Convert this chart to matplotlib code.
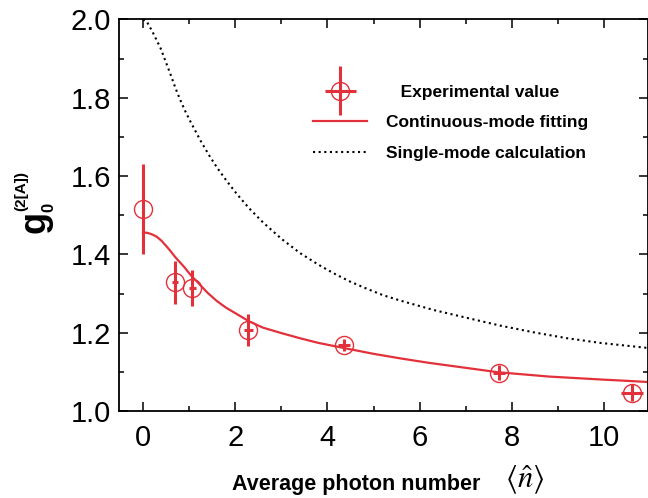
import numpy as np
import matplotlib
matplotlib.use("Agg")
import matplotlib.pyplot as plt
from matplotlib.legend_handler import HandlerErrorbar

plt.rcParams['font.family'] = ['Liberation Sans', 'DejaVu Sans']

RED = '#e3313c'

# experimental points
n_exp = [0.0, 0.70, 1.07, 2.28, 4.36, 7.72, 10.61]
g_exp = [1.517, 1.329, 1.314, 1.207, 1.168, 1.098, 1.047]
g_err = [0.115, 0.055, 0.046, 0.042, 0.015, 0.020, 0.021]
n_err = [0.0, 0.07, 0.07, 0.10, 0.13, 0.13, 0.24]

# continuous-mode fitting curve
n_fit = [0.0, 0.1, 0.2, 0.3, 0.4, 0.5, 0.6, 0.7, 0.8, 0.9, 1.0, 1.1, 1.2,
         1.4, 1.6, 1.8, 2.0, 2.3, 2.6, 3.0, 3.4, 3.8, 4.35, 5.0, 5.6, 6.2,
         6.7, 7.2, 7.7, 8.3, 8.8, 9.4, 10.0, 10.5, 10.95]
g_fit = [1.456, 1.455, 1.451, 1.445, 1.435, 1.422, 1.408, 1.393, 1.380,
         1.367, 1.352, 1.339, 1.327, 1.302, 1.281, 1.264, 1.250, 1.229,
         1.213, 1.199, 1.186, 1.174, 1.161, 1.146, 1.134, 1.123, 1.115,
         1.107, 1.099, 1.093, 1.088, 1.084, 1.080, 1.077, 1.074]

# single-mode calculation curve
n_sm = [0.0, 0.076, 0.2, 0.38, 0.5, 0.6, 0.7, 0.81, 0.92, 1.03, 1.25, 1.45,
        1.61, 1.8, 2.03, 2.3, 2.6, 3.0, 3.41, 3.8, 4.13, 4.5, 4.86, 5.2,
        5.58, 6.3, 7.02, 7.75, 8.47, 9.19, 9.91, 10.95]
g_sm = [2.0, 1.996, 1.97, 1.927, 1.89, 1.859, 1.826, 1.794, 1.765, 1.739,
        1.69, 1.65, 1.621, 1.59, 1.555, 1.518, 1.482, 1.44, 1.403, 1.374,
        1.352, 1.33, 1.312, 1.296, 1.282, 1.258, 1.238, 1.218, 1.201, 1.186,
        1.174, 1.161]

labels = ['   Experimental value', 'Continuous-mode fitting', 'Single-mode calculation']

fig = plt.figure(figsize=(6.48, 4.98), dpi=100)
ax = fig.add_axes([119 / 648, 1 - 411 / 498, 1 - 119 / 648, (411 - 19.5) / 498])

l_sm, = ax.plot(n_sm, g_sm, color='black', lw=1.5, linestyle=(0, (1, 1.7)))
l_fit, = ax.plot(n_fit, g_fit, color=RED, lw=1.6)
eb = ax.errorbar(n_exp, g_exp, yerr=g_err, xerr=n_err, fmt='o', ms=13,
                 mfc='none', mec=RED, mew=1.0, ecolor=RED, elinewidth=2.2,
                 capsize=0, zorder=5)

ax.set_xlim(-0.52, 10.95)
ax.set_ylim(1.0, 2.0)
ax.set_xticks([0, 2, 4, 6, 8, 10])
ax.set_xticks(np.arange(1, 11, 2), minor=True)
ax.set_yticks([1.0, 1.2, 1.4, 1.6, 1.8, 2.0])
ax.set_yticklabels(['1.0', '1.2', '1.4', '1.6', '1.8', '2.0'])
ax.set_yticks([1.1, 1.3, 1.5, 1.7, 1.9], minor=True)
ax.tick_params(which='both', direction='in', top=True, right=True,
               width=1.1, labelsize=21)
ax.tick_params(which='major', length=6.5)
ax.tick_params(which='minor', length=3.6)
ax.tick_params(axis='x', pad=9)
ax.tick_params(axis='y', pad=6)
for s in ax.spines.values():
    s.set_linewidth(1.3)

# x label: bold words plus math symbol
fig.text(232 / 648, 1 - 490 / 498, 'Average photon number', fontsize=15.5,
         fontweight='bold', ha='left', va='baseline')
fig.text(505 / 648, 1 - 488 / 498, r'$\langle\hat{n}\rangle$', fontsize=22,
         math_fontfamily='stix', ha='left', va='baseline')

# y label: g with sub/superscript, rotated
fig.text(45 / 648, 1 - 233 / 498, 'g', fontsize=26, fontweight='bold',
         rotation=90, rotation_mode='anchor', ha='left', va='baseline')
fig.text(53 / 648, 1 - 212 / 498, '0', fontsize=12, fontweight='bold',
         rotation=90, rotation_mode='anchor', ha='left', va='baseline')
fig.text(25 / 648, 1 - 211 / 498, '(2[A])', fontsize=11, fontweight='bold',
         rotation=90, rotation_mode='anchor', ha='left', va='baseline')

leg = ax.legend([eb, l_fit, l_sm], labels, frameon=False,
                prop={'weight': 'bold', 'size': 12.5},
                loc='upper left', bbox_to_anchor=(0.338, 0.874),
                handlelength=3.1, handletextpad=1.1, labelspacing=0.89,
                handler_map={type(eb): HandlerErrorbar(xerr_size=0.9, yerr_size=1.4)})

fig.savefig('out.png', dpi=100)
